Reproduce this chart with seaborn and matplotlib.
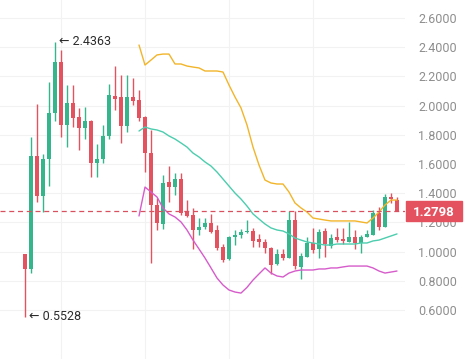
import matplotlib
matplotlib.use("Agg")
import matplotlib.pyplot as plt
import matplotlib.transforms as mtransforms
from matplotlib.patches import Rectangle
import numpy as np
import pandas as pd
import seaborn as sns

# candle data (one row per bar)
opens = [0.984, 0.881, 1.655, 1.381, 1.634, 1.949, 2.299, 1.867, 2.018, 1.922,
         1.847, 1.894, 1.607, 1.634, 1.792, 2.066, 2.059, 1.860, 2.059, 2.038,
         1.922, 1.675, 1.319, 1.189, 1.477, 1.442, 1.497, 1.278, 1.251, 1.148,
         1.168, 1.196, 1.148, 1.032, 0.949, 1.100, 1.114, 1.134, 1.141, 1.086,
         1.066, 1.025, 0.915, 0.984, 0.956, 1.216, 0.894, 0.963, 1.059, 1.018,
         1.141, 1.040, 1.100, 1.086, 1.066, 1.100, 1.059, 1.100, 1.114, 1.264,
         1.168, 1.374, 1.353]
highs = [0.984, 1.785, 2.011, 1.668, 2.162, 2.4363, 2.381, 2.141, 2.141, 1.984,
         1.990, 1.900, 1.737, 1.867, 2.148, 2.271, 2.210, 2.210, 2.189, 2.107,
         1.930, 1.833, 1.367, 1.525, 1.586, 1.538, 1.538, 1.353, 1.299, 1.230,
         1.230, 1.258, 1.182, 1.052, 1.107, 1.148, 1.155, 1.216, 1.162, 1.121,
         1.086, 1.032, 1.018, 1.018, 1.278, 1.278, 0.990, 1.100, 1.162, 1.155,
         1.162, 1.121, 1.162, 1.162, 1.203, 1.148, 1.114, 1.148, 1.285, 1.305,
         1.395, 1.401, 1.374]
lows = [0.5528, 0.853, 1.340, 1.271, 1.449, 1.894, 1.785, 1.716, 1.853, 1.696,
        1.771, 1.511, 1.511, 1.607, 1.771, 1.970, 1.744, 1.819, 2.004, 1.894,
        1.545, 0.922, 1.148, 1.155, 1.340, 1.388, 1.251, 1.237, 1.018, 1.114,
        1.155, 1.127, 1.011, 0.929, 0.942, 1.045, 1.093, 1.127, 1.032, 1.032,
        0.990, 0.847, 0.908, 0.942, 0.956, 0.881, 0.812, 0.963, 0.990, 0.956,
        0.963, 1.025, 1.066, 1.052, 1.066, 1.018, 0.990, 1.100, 1.114, 1.148,
        1.168, 1.333, 1.2798]
closes = [0.881, 1.655, 1.381, 1.634, 1.949, 2.299, 1.867, 2.018, 1.915, 1.847,
          1.894, 1.607, 1.634, 1.792, 2.073, 2.045, 1.860, 2.059, 2.031, 1.915,
          1.675, 1.319, 1.196, 1.470, 1.442, 1.497, 1.264, 1.244, 1.148, 1.168,
          1.196, 1.134, 1.025, 0.942, 1.100, 1.114, 1.134, 1.141, 1.073, 1.066,
          1.025, 0.908, 0.984, 0.956, 1.216, 0.901, 0.970, 1.059, 1.011, 1.134,
          1.052, 1.093, 1.079, 1.073, 1.100, 1.059, 1.100, 1.121, 1.264, 1.168,
          1.374, 1.360, 1.2798]

# bands start at bar 19
band_start = 19
upper_band = [2.415, 2.278, 2.312, 2.347, 2.353, 2.353, 2.285, 2.285, 2.271, 2.264,
              2.258, 2.237, 2.237, 2.237, 2.230, 2.141, 2.059, 1.984, 1.867, 1.716,
              1.593, 1.490, 1.470, 1.463, 1.463, 1.408, 1.333, 1.299, 1.271, 1.230,
              1.223, 1.216, 1.210, 1.210, 1.210, 1.210, 1.210, 1.203, 1.196, 1.230,
              1.271, 1.319, 1.353, 1.353]
middle_band = [1.826, 1.853, 1.840, 1.833, 1.819, 1.792, 1.771, 1.744, 1.716, 1.675,
               1.648, 1.614, 1.586, 1.545, 1.497, 1.449, 1.401, 1.360, 1.312, 1.258,
               1.223, 1.189, 1.162, 1.148, 1.141, 1.121, 1.093, 1.079, 1.066, 1.059,
               1.052, 1.045, 1.045, 1.052, 1.052, 1.052, 1.052, 1.059, 1.059, 1.073,
               1.079, 1.093, 1.107, 1.121]
lower_band = [1.244, 1.442, 1.408, 1.374, 1.299, 1.258, 1.237, 1.203, 1.148, 1.079,
              1.018, 0.956, 0.888, 0.819, 0.771, 0.737, 0.723, 0.716, 0.755, 0.805,
              0.847, 0.888, 0.853, 0.833, 0.826, 0.853, 0.867, 0.874, 0.874, 0.874,
              0.881, 0.881, 0.888, 0.888, 0.895, 0.901, 0.901, 0.901, 0.901, 0.888,
              0.867, 0.853, 0.860, 0.867]

y_ticks = [0.6, 0.8, 1.0, 1.2, 1.4, 1.6, 1.8, 2.0, 2.2, 2.4, 2.6]
last_price = 1.2798
high_mark = (5, 2.4363)
low_mark = (0, 0.5528)

GREEN = "#35b58c"
RED = "#e4525f"

sns.set_theme(style="white")
plt.rcParams["font.family"] = ["Roboto", "DejaVu Sans"]

candles = pd.DataFrame({"open": opens, "high": highs, "low": lows, "close": closes})
candles["idx"] = np.arange(len(candles))
candles["up"] = candles["close"] >= candles["open"]
candles["color"] = np.where(candles["up"], GREEN, RED)

bands = pd.DataFrame({
    "idx": np.arange(band_start, band_start + len(upper_band)),
    "upper": upper_band,
    "middle": middle_band,
    "lower": lower_band,
})

W, H = 466, 359
fig = plt.figure(figsize=(W / 100, H / 100), dpi=100)
ax = fig.add_axes([0, 0, 405 / W, 1])

ax.set_xlim(-25 / 6, (405 - 25) / 6)
ax.set_ylim(0.6 - (H - 310) / 146, 2.6 + 18 / 146)

# grid
for v in y_ticks:
    ax.axhline(v, color="#f2f2f2", lw=0.8, zorder=0)
for xg in [6, 20, 34, 48]:
    ax.axvline(xg, color="#f2f2f2", lw=0.8, zorder=0)

# wicks and bodies
ax.vlines(candles["idx"], candles["low"], candles["high"],
          colors=candles["color"], lw=1.0, zorder=2)
body_h = (candles["close"] - candles["open"]).abs().clip(lower=0.008)
body_b = candles[["open", "close"]].min(axis=1)
ax.bar(candles["idx"], body_h, bottom=body_b, width=0.68,
       color=candles["color"], zorder=3, linewidth=0)

# bands
sns.lineplot(data=bands, x="idx", y="upper", ax=ax, color="#f2b52a", lw=1.0, zorder=4)
sns.lineplot(data=bands, x="idx", y="middle", ax=ax, color="#4ccdae", lw=1.0, zorder=4)
sns.lineplot(data=bands, x="idx", y="lower", ax=ax, color="#d65ccb", lw=1.0, zorder=4)

# last price line
ax.axhline(last_price, color="#d9505f", lw=0.9, ls=(0, (4, 3)), zorder=5)

# high / low markers
ax.text(high_mark[0] + 0.6, high_mark[1], "\u2190 " + f"{high_mark[1]:.4f}",
        va="center", ha="left", fontsize=9, color="#2b2b2b")
ax.text(low_mark[0] + 0.6, low_mark[1], "\u2190 " + f"{low_mark[1]:.4f}",
        va="center", ha="left", fontsize=9, color="#2b2b2b")

# y axis on the right
ax.yaxis.tick_right()
ax.set_yticks(y_ticks)
ax.set_yticklabels([f"{v:.4f}" for v in y_ticks])
ax.tick_params(axis="y", length=0, pad=9.5, labelsize=9, labelcolor="#8e8e8e")
ax.set_xticks([])
ax.set_xlabel("")
ax.set_ylabel("")
for s in ax.spines.values():
    s.set_visible(False)

# price tag
trans = mtransforms.blended_transform_factory(fig.transFigure, ax.transData)
box_h = 20 / 146
fig.add_artist(Rectangle((406 / W, last_price - box_h / 2), 56 / W, box_h,
                         transform=trans, color=RED, zorder=10))
fig.text((406 + 28) / W, 0, f"{last_price:.4f}", transform=trans, ha="center",
         va="center_baseline", fontsize=9.5, color="white", fontweight="bold",
         zorder=11).set_y(last_price)

fig.savefig("out.png", dpi=100)
